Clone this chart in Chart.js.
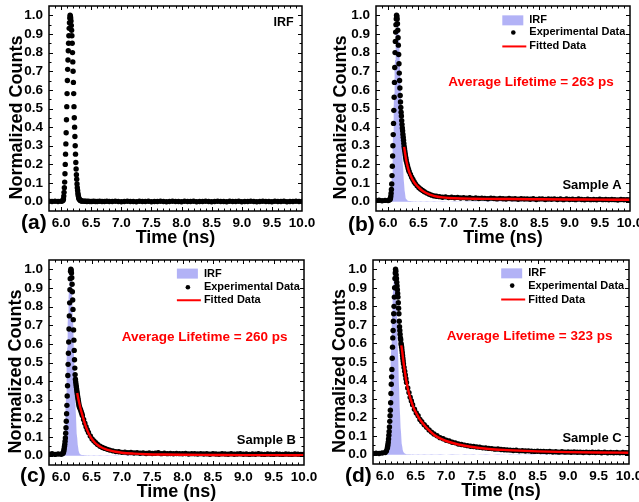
<!DOCTYPE html>
<html>
<head>
<meta charset="utf-8">
<script src="https://cdn.jsdelivr.net/npm/chart.js@4.4.0/dist/chart.umd.min.js"></script>
<style>
  body { margin: 0; background: #fff; }
  #wrap { position: relative; width: 639px; height: 502px; overflow: hidden; }
  canvas { position: absolute; }
</style>
</head>
<body>
<div id="wrap">
  <canvas id="panelA" width="320" height="250" style="left:0;top:0"></canvas>
  <canvas id="panelB" width="319" height="250" style="left:320px;top:0"></canvas>
  <canvas id="panelC" width="320" height="252" style="left:0;top:250px"></canvas>
  <canvas id="panelD" width="319" height="252" style="left:320px;top:250px"></canvas>
</div>
<script>
// time channels (ns), shared by the IRF and the three decays
const timeNs = [
  5.80, 5.85, 5.90, 5.95, 6.00, 6.02, 6.035,
  6.040, 6.045, 6.050, 6.055, 6.060, 6.065, 6.070, 6.075, 6.080, 6.085,
  6.090, 6.095, 6.100, 6.105, 6.110, 6.115, 6.120, 6.125, 6.130, 6.135,
  6.140, 6.145, 6.150, 6.155, 6.160, 6.165, 6.170, 6.175, 6.180, 6.185,
  6.190, 6.195, 6.200, 6.205, 6.210, 6.215, 6.220, 6.225, 6.230, 6.235,
  6.240, 6.245, 6.250, 6.255, 6.260, 6.265, 6.270, 6.275, 6.280, 6.285,
  6.290, 6.295, 6.300,
  6.31, 6.32, 6.33, 6.34, 6.35, 6.37, 6.39, 6.41, 6.43, 6.45,
  6.48, 6.51, 6.54, 6.57, 6.60, 6.64, 6.68, 6.72, 6.76, 6.80,
  6.85, 6.90, 6.95, 7.00, 7.05, 7.10, 7.15, 7.20, 7.25, 7.30,
  7.35, 7.40, 7.45, 7.50, 7.55, 7.60, 7.65, 7.70, 7.75, 7.80,
  7.85, 7.90, 7.95, 8.00, 8.05, 8.10, 8.15, 8.20, 8.25, 8.30,
  8.35, 8.40, 8.45, 8.50, 8.55, 8.60, 8.65, 8.70, 8.75, 8.80,
  8.85, 8.90, 8.95, 9.00, 9.05, 9.10, 9.15, 9.20, 9.25, 9.30,
  9.35, 9.40, 9.45, 9.50, 9.55, 9.60, 9.65, 9.70, 9.75, 9.80,
  9.85, 9.90, 9.95, 10.00
];

const irfCounts = [
  0.002, 0.001, 0.002, 0.001, 0.002, 0.003, 0.008,
  0.015, 0.030, 0.050, 0.075, 0.105, 0.150, 0.200, 0.255, 0.310, 0.370,
  0.440, 0.510, 0.580, 0.650, 0.710, 0.760, 0.810, 0.850, 0.890, 0.930,
  0.960, 0.985, 1.000, 0.995, 0.985, 0.970, 0.945, 0.920, 0.890, 0.850,
  0.800, 0.750, 0.700, 0.640, 0.580, 0.510, 0.450, 0.400, 0.350, 0.300,
  0.255, 0.210, 0.175, 0.145, 0.120, 0.095, 0.075, 0.060, 0.045, 0.035,
  0.026, 0.019, 0.014,
  0.010, 0.007, 0.005, 0.004, 0.003, 0.003, 0.002, 0.002, 0.001, 0.002,
  0.001, 0.001, 0.002, 0.001, 0.001, 0.002, 0.001, 0.001, 0.002, 0.001,
  0.001, 0.002, 0.001, 0.000, 0.001, 0.002, 0.001, 0.001, 0.000, 0.002,
  0.001, 0.001, 0.002, 0.000, 0.001, 0.001, 0.002, 0.001, 0.000, 0.001,
  0.002, 0.001, 0.001, 0.000, 0.002, 0.001, 0.001, 0.002, 0.000, 0.001,
  0.001, 0.002, 0.001, 0.000, 0.001, 0.002, 0.001, 0.001, 0.000, 0.002,
  0.001, 0.001, 0.002, 0.000, 0.001, 0.001, 0.002, 0.001, 0.000, 0.001,
  0.002, 0.001, 0.001, 0.000, 0.002, 0.001, 0.001, 0.002, 0.000, 0.001,
  0.001, 0.002, 0.001, 0.001
];

const sampleACounts = [
  0.006, 0.008, 0.005, 0.007, 0.006, 0.009, 0.013,
  0.020, 0.030, 0.045, 0.065, 0.095, 0.140, 0.190, 0.245, 0.300, 0.360,
  0.420, 0.490, 0.560, 0.640, 0.720, 0.800, 0.860, 0.910, 0.950, 0.980,
  1.000, 0.995, 0.980, 0.955, 0.920, 0.880, 0.840, 0.790, 0.740, 0.690,
  0.650, 0.610, 0.570, 0.535, 0.505, 0.480, 0.460, 0.435, 0.415, 0.395,
  0.380, 0.362, 0.346, 0.330, 0.313, 0.298, 0.286, 0.274, 0.262, 0.251,
  0.240, 0.230, 0.220,
  0.207, 0.194, 0.181, 0.170, 0.160, 0.146, 0.131, 0.119, 0.107, 0.097,
  0.085, 0.075, 0.067, 0.060, 0.053, 0.046, 0.040, 0.035, 0.031, 0.029,
  0.027, 0.024, 0.026, 0.022, 0.024, 0.021, 0.023, 0.020, 0.022, 0.019,
  0.021, 0.018, 0.020, 0.017, 0.019, 0.018, 0.016, 0.019, 0.017, 0.015,
  0.018, 0.016, 0.014, 0.017, 0.015, 0.016, 0.013, 0.016, 0.014, 0.015,
  0.013, 0.016, 0.012, 0.014, 0.015, 0.012, 0.014, 0.013, 0.015, 0.012,
  0.014, 0.011, 0.014, 0.012, 0.013, 0.011, 0.014, 0.012, 0.010, 0.013,
  0.011, 0.012, 0.010, 0.013, 0.011, 0.012, 0.010, 0.012, 0.011, 0.009,
  0.012, 0.010, 0.011, 0.010
];

const sampleBCounts = [
  0.008, 0.010, 0.007, 0.009, 0.008, 0.011, 0.015,
  0.020, 0.028, 0.038, 0.050, 0.062, 0.078, 0.095, 0.120, 0.150, 0.185,
  0.225, 0.270, 0.320, 0.375, 0.430, 0.490, 0.550, 0.610, 0.680, 0.750,
  0.820, 0.890, 0.950, 0.990, 1.000, 0.995, 0.980, 0.955, 0.920, 0.880,
  0.835, 0.785, 0.730, 0.675, 0.620, 0.565, 0.515, 0.470, 0.435, 0.410,
  0.395, 0.382, 0.370, 0.358, 0.346, 0.334, 0.322, 0.311, 0.300, 0.290,
  0.280, 0.270, 0.262,
  0.255, 0.246, 0.236, 0.226, 0.216, 0.194, 0.174, 0.155, 0.139, 0.125,
  0.106, 0.090, 0.079, 0.069, 0.060, 0.051, 0.044, 0.039, 0.034, 0.030,
  0.026, 0.022, 0.021, 0.018, 0.019, 0.016, 0.017, 0.014, 0.016, 0.013,
  0.015, 0.012, 0.014, 0.012, 0.013, 0.016, 0.011, 0.013, 0.011, 0.012,
  0.010, 0.012, 0.011, 0.010, 0.012, 0.009, 0.011, 0.010, 0.009, 0.011,
  0.009, 0.010, 0.008, 0.011, 0.009, 0.008, 0.010, 0.009, 0.008, 0.010,
  0.008, 0.009, 0.010, 0.008, 0.009, 0.007, 0.009, 0.008, 0.010, 0.008,
  0.007, 0.009, 0.008, 0.007, 0.009, 0.008, 0.007, 0.009, 0.008, 0.007,
  0.009, 0.008, 0.007, 0.008
];

const sampleCCounts = [
  0.006, 0.008, 0.007, 0.009, 0.012, 0.020, 0.035,
  0.045, 0.055, 0.068, 0.085, 0.105, 0.125, 0.150, 0.180, 0.210, 0.240,
  0.280, 0.330, 0.380, 0.420, 0.460, 0.520, 0.580, 0.630, 0.670, 0.720,
  0.760, 0.800, 0.850, 0.900, 0.950, 0.980, 1.000, 0.990, 0.970, 0.950,
  0.930, 0.910, 0.890, 0.870, 0.850, 0.820, 0.790, 0.760, 0.720, 0.690,
  0.670, 0.650, 0.630, 0.620, 0.600, 0.590, 0.580, 0.565, 0.550, 0.535,
  0.520, 0.505, 0.490,
  0.470, 0.450, 0.430, 0.410, 0.390, 0.360, 0.335, 0.310, 0.290, 0.270,
  0.245, 0.225, 0.210, 0.190, 0.178, 0.162, 0.148, 0.133, 0.122, 0.112,
  0.102, 0.092, 0.086, 0.078, 0.074, 0.067, 0.064, 0.058, 0.055, 0.052,
  0.049, 0.046, 0.044, 0.042, 0.040, 0.037, 0.036, 0.034, 0.033, 0.030,
  0.031, 0.028, 0.027, 0.026, 0.025, 0.023, 0.024, 0.021, 0.022, 0.020,
  0.021, 0.019, 0.018, 0.019, 0.017, 0.018, 0.016, 0.017, 0.015, 0.016,
  0.014, 0.016, 0.014, 0.015, 0.013, 0.015, 0.013, 0.014, 0.012, 0.014,
  0.012, 0.013, 0.012, 0.013, 0.011, 0.013, 0.011, 0.012, 0.011, 0.012,
  0.010, 0.012, 0.011, 0.011
];

// fitted decays
const fitTimeNs = [
  6.265, 6.28, 6.30, 6.32, 6.34, 6.36, 6.38, 6.40, 6.43, 6.46, 6.50, 6.55, 6.60,
  6.66, 6.73, 6.80, 6.90, 7.00, 7.20, 7.40, 7.70, 8.00, 8.50, 9.00, 9.50, 10.00
];
const fitACounts = [
  0.294, 0.262, 0.222, 0.192, 0.168, 0.150, 0.135, 0.122, 0.105, 0.092, 0.078, 0.063, 0.052,
  0.042, 0.034, 0.028, 0.023, 0.020, 0.017, 0.016, 0.015, 0.014, 0.013, 0.012, 0.011, 0.010
];
const fitBCounts = [
  0.336, 0.310, 0.280, 0.252, 0.228, 0.205, 0.183, 0.163, 0.137, 0.115, 0.092, 0.072, 0.057,
  0.045, 0.035, 0.028, 0.021, 0.016, 0.011, 0.008, 0.006, 0.005, 0.004, 0.003, 0.003, 0.002
];
const fitCCounts = [
  0.590, 0.555, 0.500, 0.455, 0.410, 0.375, 0.345, 0.318, 0.286, 0.258, 0.230, 0.200, 0.176,
  0.152, 0.128, 0.108, 0.088, 0.074, 0.055, 0.043, 0.031, 0.025, 0.018, 0.014, 0.012, 0.011
];

const xTickValues = [6.0, 6.5, 7.0, 7.5, 8.0, 8.5, 9.0, 9.5, 10.0];
const yTickValues = [0.0, 0.1, 0.2, 0.3, 0.4, 0.5, 0.6, 0.7, 0.8, 0.9, 1.0];
const sampleNames = ['Sample A', 'Sample B', 'Sample C'];
const lifetimesPs = [263, 260, 323];

const FONT = '"Liberation Sans", Arial, sans-serif';
const IRF_FILL = 'rgb(178,178,246)';
const FIT_RED = '#ff0000';
const Y_TITLE = 'Normalized Counts';

const pts = (xs, ys) => xs.map((t, i) => ({ x: t, y: ys[i] }));

// frame, inward ticks, y title, in-plot labels and the legend
const decor = {
  id: 'decor',
  afterDraw(chart, args, o) {
    const { ctx, chartArea: a } = chart;
    const sx = chart.scales.x, sy = chart.scales.y;
    ctx.save();
    ctx.strokeStyle = '#000';
    ctx.lineWidth = 1;
    ctx.beginPath();
    for (let i = 59; i < 100; i++) {
      const px = Math.round(sx.getPixelForValue(i / 10)) + 0.5;
      const len = i % 5 === 0 ? 4 : 2.5;
      ctx.moveTo(px, a.bottom); ctx.lineTo(px, a.bottom - len);
      ctx.moveTo(px, a.top); ctx.lineTo(px, a.top + len);
    }
    for (let i = 0; i <= 20; i++) {
      const py = Math.round(sy.getPixelForValue(i * 0.05)) + 0.5;
      const len = i % 2 === 0 ? 4 : 2.5;
      ctx.moveTo(a.left, py); ctx.lineTo(a.left + len, py);
      ctx.moveTo(a.right, py); ctx.lineTo(a.right - len, py);
    }
    ctx.stroke();
    ctx.lineWidth = 1.5;
    ctx.strokeRect(a.left, a.top, a.right - a.left, a.bottom - a.top);

    ctx.textBaseline = 'middle';
    ctx.fillStyle = '#000';

    // y title sits a little below the middle of the axis, like the original
    ctx.save();
    ctx.font = `bold 18px ${FONT}`;
    ctx.textAlign = 'center';
    ctx.translate(o.yTitleX, (a.top + a.bottom) / 2 + 9);
    ctx.rotate(-Math.PI / 2);
    ctx.fillText(Y_TITLE, 0, 0);
    ctx.restore();

    (o.texts || []).forEach(t => {
      ctx.font = `bold ${t.size}px ${FONT}`;
      ctx.fillStyle = t.color || '#000';
      ctx.textAlign = t.align;
      ctx.fillText(t.text, sx.getPixelForValue(t.x), sy.getPixelForValue(t.y));
    });

    if (o.legend) {
      const lx = sx.getPixelForValue(o.legend.x);
      ctx.font = `bold 11px ${FONT}`;
      ctx.textAlign = 'left';
      chart.data.datasets.slice().reverse().forEach((ds, k) => {
        const py = sy.getPixelForValue(o.legend.rows[k]);
        if (ds.kind === 'patch') {
          ctx.fillStyle = ds.backgroundColor;
          ctx.fillRect(lx - 27, py - 5, 21, 10);
        } else if (ds.kind === 'dot') {
          ctx.fillStyle = '#000';
          ctx.beginPath(); ctx.arc(lx - 16, py, 2.3, 0, Math.PI * 2); ctx.fill();
        } else {
          ctx.strokeStyle = ds.borderColor; ctx.lineWidth = 2;
          ctx.beginPath(); ctx.moveTo(lx - 27, py); ctx.lineTo(lx - 3, py); ctx.stroke();
        }
        ctx.fillStyle = '#000';
        ctx.fillText(ds.label, lx, py);
      });
    }

    if (o.letter) {
      ctx.font = `bold 21px ${FONT}`;
      ctx.textAlign = 'left';
      ctx.fillStyle = '#000';
      ctx.fillText(o.letter.text, o.letter.x, o.letter.y);
    }
    ctx.restore();
  }
};

function makeScales(g) {
  const tickFont = { family: FONT, weight: 'bold', size: 13.5 };
  const titleFont = { family: FONT, weight: 'bold', size: 18, lineHeight: 1 };
  return {
    x: {
      type: 'linear', min: 5.8, max: 10.0,
      grid: { display: false, drawTicks: false }, border: { display: false },
      afterBuildTicks: s => { s.ticks = xTickValues.map(v => ({ value: v })); },
      afterFit: s => { s.height = g.xHeight; s.paddingLeft = 0; s.paddingRight = 0; },
      ticks: { font: tickFont, color: '#000', padding: 4, maxRotation: 0, autoSkip: false,
               callback: v => v.toFixed(1) },
      title: { display: true, text: 'Time (ns)', font: titleFont, color: '#000',
               padding: { top: 0, bottom: g.xTitlePad } }
    },
    y: {
      type: 'linear', min: -0.05, max: 1.05,
      grid: { display: false, drawTicks: false }, border: { display: false },
      afterBuildTicks: s => { s.ticks = yTickValues.map(v => ({ value: v })); },
      afterFit: s => { s.width = g.yWidth; s.paddingTop = 0; s.paddingBottom = 0; },
      ticks: { font: tickFont, color: '#000', padding: 6, autoSkip: false,
               callback: v => v.toFixed(1) }
    }
  };
}

function makeChart(id, datasets, g, decorOpts) {
  return new Chart(document.getElementById(id), {
    type: 'scatter',
    data: { datasets },
    options: {
      responsive: false, animation: false, devicePixelRatio: 1, events: [],
      layout: { padding: { left: 0, top: g.top, right: g.right, bottom: 0 } },
      plugins: { legend: { display: false }, tooltip: { enabled: false }, decor: decorOpts },
      scales: makeScales(g)
    },
    plugins: [decor]
  });
}

const dotStyle = { pointRadius: 2.7, pointBorderWidth: 0, pointBackgroundColor: '#000', backgroundColor: '#000' };

function sampleDatasets(counts, fit) {
  return [
    { label: 'Fitted Data', kind: 'line', data: pts(fitTimeNs, fit), showLine: true,
      borderColor: FIT_RED, borderWidth: 2.4, pointRadius: 0, cubicInterpolationMode: 'monotone' },
    { label: 'Experimental Data', kind: 'dot', data: pts(timeNs, counts), ...dotStyle },
    { label: 'IRF', kind: 'patch', data: pts(timeNs, irfCounts), showLine: true, fill: 'origin',
      backgroundColor: IRF_FILL, borderColor: 'rgba(0,0,0,0)', borderWidth: 0, pointRadius: 0 }
  ];
}

function sampleTexts(i, lifeX, lifeY, nameX, nameY) {
  return [
    { text: `Average Lifetime = ${lifetimesPs[i]} ps`, x: lifeX, y: lifeY, align: 'center', color: FIT_RED, size: 13.5 },
    { text: sampleNames[i], x: nameX, y: nameY, align: 'right', size: 13 }
  ];
}

makeChart('panelA',
  [{ label: 'IRF', kind: 'dot', data: pts(timeNs, irfCounts), ...dotStyle }],
  { top: 6, right: 18, yWidth: 49, xHeight: 39, xTitlePad: 3 },
  { letter: { text: '(a)', x: 21, y: 223 }, yTitleX: 17,
    texts: [{ text: 'IRF', x: 9.86, y: 0.96, align: 'right', size: 12.5 }] });

makeChart('panelB', sampleDatasets(sampleACounts, fitACounts),
  { top: 6, right: 9, yWidth: 56, xHeight: 39, xTitlePad: 2.5 },
  { letter: { text: '(b)', x: 28, y: 225 }, yTitleX: 21,
    legend: { x: 8.335, rows: [0.973, 0.908, 0.833] },
    texts: sampleTexts(0, 8.363, 0.639, 9.862, 0.085) });

makeChart('panelC', sampleDatasets(sampleBCounts, fitBCounts),
  { top: 10, right: 16, yWidth: 49, xHeight: 37, xTitlePad: 1 },
  { letter: { text: '(c)', x: 20, y: 226 }, yTitleX: 16,
    legend: { x: 8.351, rows: [0.977, 0.904, 0.834] },
    texts: sampleTexts(1, 8.364, 0.637, 9.868, 0.081) });

makeChart('panelD', sampleDatasets(sampleCCounts, fitCCounts),
  { top: 10, right: 10, yWidth: 53, xHeight: 38, xTitlePad: 1.5 },
  { letter: { text: '(d)', x: 25, y: 226 }, yTitleX: 20,
    legend: { x: 8.346, rows: [0.978, 0.912, 0.837] },
    texts: sampleTexts(2, 8.369, 0.639, 9.88, 0.086) });
</script>
</body>
</html>
